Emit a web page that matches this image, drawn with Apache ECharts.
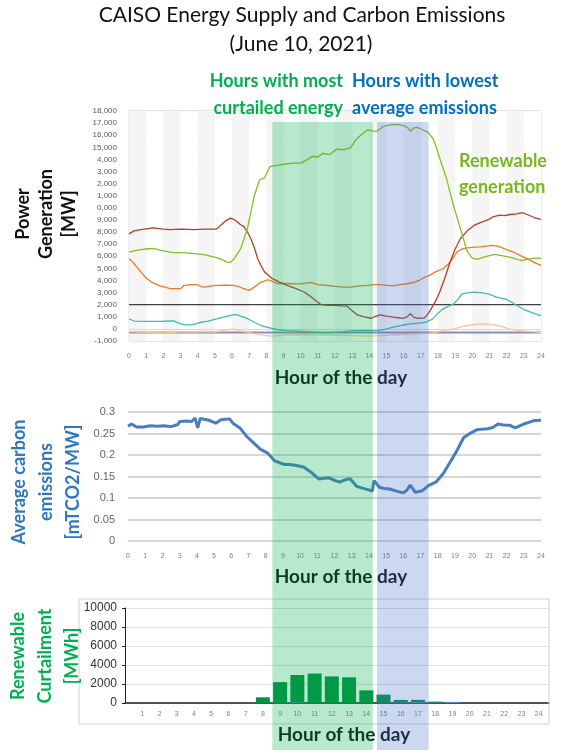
<!DOCTYPE html>
<html>
<head>
<meta charset="utf-8">
<script src="https://cdn.jsdelivr.net/npm/echarts@6/dist/echarts.min.js"></script>
<style>
html, body { margin: 0; padding: 0; background: #fff; }
#chart { width: 561px; height: 750px; }
</style>
</head>
<body>
<div id="chart"></div>
<script>
// power generation by source, [hour, MW]
const renewable = [[0,6350],[0.5,6500],[1,6600],[1.4,6650],[2,6450],[2.6,6300],[3.2,6300],[3.8,6220],[4.3,6150],[4.8,6000],[5.3,5800],[5.7,5520],[5.9,5500],[6.1,5750],[6.5,6600],[6.9,8300],[7.3,11000],[7.6,12300],[7.9,12500],[8.2,13400],[8.6,13500],[9,13600],[9.6,13700],[10,13700],[10.4,14000],[10.7,14250],[11,14200],[11.3,14500],[11.7,14400],[12.1,14850],[12.5,14800],[12.9,14950],[13.2,15600],[13.5,16000],[13.9,16450],[14.2,16350],[14.4,16300],[14.8,16700],[15.2,16850],[15.6,16900],[16,16800],[16.2,16650],[16.4,16350],[16.6,16600],[16.8,16650],[17.1,16450],[17.4,16250],[17.7,15750],[17.9,15000],[18.1,14100],[18.5,12400],[18.9,10200],[19.3,8300],[19.7,6400],[20,5850],[20.3,5750],[20.6,5900],[21,6050],[21.3,6150],[21.7,6050],[22.1,5950],[22.5,5800],[22.8,5650],[23.2,5750],[23.6,5850],[24,5850]];
const gas = [[0,7850],[0.3,8100],[0.7,8200],[1.4,8350],[2,8250],[2.4,8200],[3,8250],[3.8,8200],[4.4,8250],[5.1,8250],[5.3,8500],[5.6,8900],[5.9,9150],[6.1,9050],[6.3,8850],[6.5,8600],[6.7,8450],[6.9,8000],[7.1,7450],[7.3,6700],[7.5,5800],[7.7,5200],[7.9,4700],[8.3,4200],[8.7,3900],[9.2,3600],[9.7,3350],[10.2,3050],[10.6,2650],[10.9,2300],[11.2,2000],[11.6,1950],[12,1950],[12.4,1900],[12.7,1880],[13,1500],[13.3,1150],[13.7,1000],[14.1,880],[14.4,1050],[14.6,1150],[15,1050],[15.4,970],[15.8,900],[16,880],[16.2,1000],[16.4,1250],[16.6,950],[16.8,880],[17.2,900],[17.4,1200],[17.6,1650],[17.9,2400],[18.1,3050],[18.4,4200],[18.7,5500],[19,6600],[19.3,7450],[19.7,8100],[20.1,8550],[20.5,8800],[20.9,9000],[21.2,9250],[21.6,9400],[21.9,9350],[22.2,9450],[22.6,9500],[22.9,9600],[23.2,9450],[23.6,9200],[24,9050]];
const imports = [[0,5800],[0.2,5550],[0.4,5200],[0.7,4700],[1,4200],[1.3,3870],[1.8,3550],[2.1,3450],[2.4,3320],[3,3320],[3.2,3600],[3.6,3650],[4,3650],[4.2,3500],[4.4,3450],[4.8,3550],[5.1,3600],[5.6,3620],[6.1,3600],[6.4,3500],[6.6,3370],[7,3180],[7.3,3450],[7.7,3870],[8.1,4060],[8.4,3900],[8.6,3750],[9,3750],[9.6,3730],[10,3720],[10.6,3850],[11,3650],[11.5,3600],[12,3520],[12.5,3450],[12.9,3450],[13.4,3550],[13.9,3600],[14.3,3650],[14.6,3650],[15,3600],[15.4,3550],[15.8,3650],[16.2,3730],[16.6,3850],[16.9,4000],[17.2,4250],[17.5,4420],[17.9,4750],[18.3,4970],[18.7,5500],[19.1,6350],[19.4,6600],[19.7,6700],[20.1,6750],[20.5,6780],[21.1,6900],[21.4,6850],[21.6,6770],[22,6550],[22.4,6350],[22.8,6050],[23.2,5800],[23.6,5500],[24,5250]];
const hydro = [[0,830],[0.3,650],[1,620],[2,630],[2.6,660],[3,420],[3.3,340],[3.6,330],[4,450],[4.2,550],[4.6,650],[5.1,830],[5.5,980],[5.8,1080],[6.2,1190],[6.5,1050],[6.7,970],[7,780],[7.3,550],[7.7,280],[8.2,80],[8.6,-50],[9.2,-140],[10,-180],[11,-280],[11.5,-330],[12.3,-250],[13.1,-150],[14,-140],[14.6,-130],[15,0],[15.4,140],[15.9,300],[16.4,410],[17,500],[17.3,550],[17.7,830],[18,1300],[18.3,1660],[18.9,2070],[19.2,2500],[19.4,2900],[19.8,3000],[20.1,3040],[20.5,3000],[20.9,2900],[21.2,2750],[21.4,2620],[21.7,2550],[22,2430],[22.3,2200],[22.6,1930],[23,1600],[23.4,1380],[23.8,1180],[24,1100]];
const storage = [[0,-220],[1,-280],[2,-330],[3,-250],[4,-220],[5,-260],[5.6,-100],[6.1,0],[6.4,-150],[7,-300],[7.7,-500],[8.3,-600],[9,-520],[9.6,-500],[10.5,-480],[11.5,-520],[12,-500],[13,-560],[13.9,-600],[14.6,-550],[15.4,-500],[16.5,-420],[17.7,-330],[18.3,-150],[18.9,0],[19.3,150],[19.7,280],[20.1,350],[20.5,410],[21,400],[21.3,330],[21.7,200],[22.1,0],[22.8,-140],[23.4,-220],[24,-280]];
const nuclear = [[0,2000],[6,2000],[12,2000],[18,2000],[24,2000]];
const other = [[0,-300],[6,-300],[12,-300],[18,-300],[24,-300]];

// average carbon emissions, [hour, mTCO2/MW]
const emissions = [[0,0.267],[0.2,0.272],[0.5,0.265],[0.9,0.265],[1.3,0.268],[1.7,0.267],[2.1,0.268],[2.5,0.266],[2.9,0.271],[3,0.278],[3.4,0.279],[3.7,0.278],[3.9,0.286],[4.05,0.263],[4.2,0.285],[4.7,0.281],[5.1,0.274],[5.4,0.282],[5.9,0.284],[6.1,0.274],[6.5,0.263],[6.9,0.243],[7.3,0.228],[7.7,0.213],[8.1,0.205],[8.5,0.187],[8.8,0.182],[9.1,0.178],[9.4,0.178],[9.7,0.176],[10.2,0.172],[10.7,0.158],[11.1,0.144],[11.4,0.146],[11.7,0.147],[12,0.141],[12.3,0.137],[12.6,0.142],[12.9,0.145],[13.1,0.136],[13.3,0.127],[13.6,0.123],[13.9,0.12],[14.2,0.116],[14.3,0.141],[14.6,0.125],[14.9,0.122],[15.2,0.121],[15.6,0.116],[16,0.112],[16.2,0.118],[16.4,0.13],[16.7,0.113],[17.1,0.117],[17.5,0.13],[17.9,0.137],[18.3,0.156],[18.7,0.182],[19.1,0.209],[19.5,0.24],[19.9,0.251],[20.3,0.259],[20.9,0.261],[21.2,0.264],[21.5,0.272],[21.8,0.27],[22.2,0.269],[22.5,0.263],[23,0.272],[23.6,0.28],[24,0.281]];

// renewable curtailment per hour, MWh
const curtailHours = [1,2,3,4,5,6,7,8,9,10,11,12,13,14,15,16,17,18,19,20,21,22,23,24];
const solarCurtail = [0,0,0,0,0,0,0,600,2200,2950,3100,2800,2700,1330,880,320,330,150,20,0,0,0,0,0];
const windCurtail = [0,0,0,0,0,0,0,0,0,60,0,0,0,0,0,40,100,40,120,0,0,0,0,0];

// highlighted hour ranges
const curtailedBand = [8.35, 14.2];
const lowEmissionBand = [14.45, 17.45];

const chart = echarts.init(document.getElementById('chart'));

const tinyLabel = { fontFamily: 'Liberation Sans', fontSize: 7, color: '#7f7f7f' };
const boldFont = 'Lato';

const mkLine = (data, color, width, idx) => ({
  type: 'line', data: data, xAxisIndex: idx, yAxisIndex: idx,
  showSymbol: false, symbol: 'none',
  lineStyle: { color: color, width: width }
});

const hourAxis = (idx, stripes) => ({
  type: 'value', gridIndex: idx, min: 0, max: 24, interval: 1,
  axisLine: { show: true, lineStyle: { color: '#d9d9d9' } },
  axisTick: { show: false },
  axisLabel: Object.assign({ margin: 12 }, tinyLabel),
  splitLine: { show: false },
  splitArea: { show: stripes, areaStyle: { color: ['#f5f5f5', '#ffffff'] } }
});

const option = {
  animation: false,
  grid: [
    { left: 129, right: 20, top: 111, height: 230, show: true, borderColor: '#dddddd', borderWidth: 1 },
    { left: 128, right: 20, top: 412, height: 129 },
    { left: 125, right: 12, top: 608, height: 95 }
  ],
  xAxis: [
    hourAxis(0, true),
    hourAxis(1, false),
    {
      type: 'value', gridIndex: 2, min: 0, max: 24.6, interval: 1,
      axisLine: { show: true, lineStyle: { color: '#222', width: 1.5 } },
      axisTick: { show: false },
      axisLabel: Object.assign({ margin: 8,
        formatter: v => (v > 0 && Number.isInteger(v)) ? String(v) : '' }, tinyLabel),
      splitLine: { show: false }
    }
  ],
  yAxis: [
    {
      type: 'value', gridIndex: 0, min: -1000, max: 18000, interval: 1000,
      axisLine: { show: false }, axisTick: { show: false },
      axisLabel: { fontFamily: 'Liberation Sans', fontSize: 8, color: '#595959', margin: 12,
        formatter: v => {
          const s = v.toLocaleString('en-US');
          return (v >= 10000 && v <= 14000) ? s.slice(1) : s;
        } },
      splitLine: { lineStyle: { color: '#e2e2e2', width: 1.5 } }
    },
    {
      type: 'value', gridIndex: 1, min: 0, max: 0.3, interval: 0.05,
      axisLine: { show: false }, axisTick: { show: false },
      axisLabel: { fontFamily: 'Liberation Sans', fontSize: 11, color: '#666', margin: 13 },
      splitLine: { lineStyle: { color: '#d6d6d6', width: 2 } }
    },
    {
      type: 'value', gridIndex: 2, min: 0, max: 10000, interval: 2000,
      axisLine: { show: true, lineStyle: { color: '#222', width: 1 } },
      axisTick: { show: true, length: 3, lineStyle: { color: '#222' } },
      axisLabel: { fontFamily: 'Liberation Sans', fontSize: 12, color: '#333', margin: 8,
        formatter: v => String(v) },
      splitLine: { lineStyle: { color: '#e0e0e0', width: 1 } }
    }
  ],
  series: [
    mkLine(nuclear, '#404040', 1.3, 0),
    mkLine(other, '#8c8db8', 2, 0),
    mkLine(storage, '#fbc590', 1.3, 0),
    mkLine(hydro, '#3dbdb3', 1.3, 0),
    mkLine(imports, '#ef7a24', 1.3, 0),
    mkLine(gas, '#b3402e', 1.3, 0),
    mkLine(renewable, '#82c11f', 1.3, 0),
    mkLine(emissions, '#4a7dbd', 3, 1),
    {
      type: 'bar', xAxisIndex: 2, yAxisIndex: 2, stack: 'c', barWidth: 14,
      data: curtailHours.map((h, i) => [h, solarCurtail[i]]),
      itemStyle: { color: '#009245' }
    },
    {
      type: 'bar', xAxisIndex: 2, yAxisIndex: 2, stack: 'c', barWidth: 14,
      data: curtailHours.map((h, i) => [h, windCurtail[i]]),
      itemStyle: { color: '#4a90d9' }
    }
  ]
};
chart.setOption(option);

const txt = (x, y, text, size, color, align, extra) => Object.assign({
  type: 'text', x: x, y: y, z: 50,
  style: { text: text, fontFamily: boldFont, fontSize: size, fontWeight: 'bold',
    fill: color, align: align, verticalAlign: 'middle' }
}, extra || {});

const rotTxt = (x, y, text, size, color, lh) => ({
  type: 'text', x: x, y: y, rotation: Math.PI / 2, z: 50,
  style: { text: text, fontFamily: boldFont, fontSize: size, fontWeight: 'bold',
    fill: color, align: 'center', verticalAlign: 'middle', lineHeight: lh }
});

const band = (range, color) => {
  const x0 = chart.convertToPixel({ xAxisIndex: 0 }, range[0]);
  const x1 = chart.convertToPixel({ xAxisIndex: 0 }, range[1]);
  return { type: 'rect', z: 100, shape: { x: x0, y: 122, width: x1 - x0, height: 628 },
    style: { fill: color } };
};

chart.setOption({
  graphic: { elements: [
    { type: 'text', x: 302, y: 15, style: { text: 'CAISO Energy Supply and Carbon Emissions',
      fontFamily: 'Lato', fontSize: 21, fill: '#111', align: 'center', verticalAlign: 'middle' } },
    { type: 'text', x: 301, y: 44, style: { text: '(June 10, 2021)',
      fontFamily: 'Lato', fontSize: 21, fill: '#111', align: 'center', verticalAlign: 'middle' } },
    txt(343, 81, 'Hours with most', 18, '#00b050', 'right'),
    txt(343, 108, 'curtailed energy', 18, '#00b050', 'right'),
    txt(352, 81, 'Hours with lowest', 18, '#0070c0', 'left'),
    txt(352, 108, 'average emissions', 18, '#0070c0', 'left'),
    txt(459, 161, 'Renewable', 18, '#78b81e', 'left'),
    txt(459, 187, 'generation', 18, '#78b81e', 'left'),
    rotTxt(46, 214, 'Power\nGeneration\n[MW]', 18, '#111', 23),
    rotTxt(46, 482, 'Average carbon\nemissions\n[mTCO2/MW]', 18, '#2f77c0', 27),
    rotTxt(45, 656, 'Renewable\nCurtailment\n[MWh]', 18, '#00b050', 27),
    txt(341, 378, 'Hour of the day', 19, '#111', 'center'),
    txt(341, 577, 'Hour of the day', 19, '#111', 'center'),
    txt(344, 735, 'Hour of the day', 19, '#111', 'center'),
    { type: 'rect', z: 40, shape: { x: 79, y: 599, width: 470, height: 125 },
      style: { fill: null, stroke: '#d0d0d0', lineWidth: 1 } },
    band(curtailedBand, 'rgba(0,176,80,0.28)'),
    band(lowEmissionBand, 'rgba(68,114,196,0.28)')
  ] }
});
</script>
</body>
</html>
